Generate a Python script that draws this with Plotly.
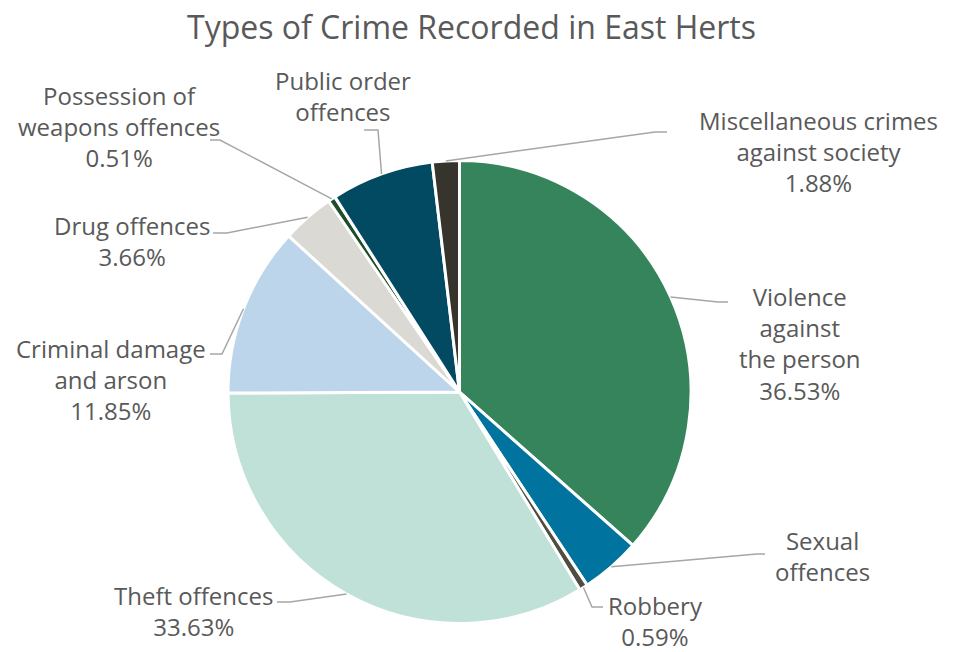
import math
import plotly.graph_objects as go

categories = ["Violence against the person", "Sexual offences", "Robbery", "Theft offences",
              "Criminal damage and arson", "Drug offences", "Possession of weapons offences",
              "Public order offences", "Miscellaneous crimes against society"]
values = [36.53, 4.18, 0.59, 33.63, 11.85, 3.66, 0.51, 7.17, 1.88]
label_texts = ["Violence<br>against<br>the person<br>36.53%", "Sexual<br>offences", "Robbery<br>0.59%",
               "Theft offences<br>33.63%", "Criminal damage<br>and arson<br>11.85%", "Drug offences<br>3.66%",
               "Possession of<br>weapons offences<br>0.51%", "Public order<br>offences",
               "Miscellaneous crimes<br>against society<br>1.88%"]
colors = ["#36845B", "#00739E", "#4D4D42", "#C0E1D8", "#BDD5EB", "#DAD9D4", "#1E4D2B", "#024A62", "#36342C"]

W, H = 966, 652
CX, CY, R = 459.5, 392.0, 231.5

# label centres (px) and leader-line elbows
label_pos = [(800, 343), (822, 556), (655, 621), (193, 611), (111, 379), (132, 241), (119, 127), (343, 96), (818, 151)]
elbows = [[(718, 302), (728, 302)],
          [(757, 554), (765, 554)],
          [(592, 607), (603, 607)],
          [(290, 602), (277, 602)],
          [(222, 354), (210, 354)],
          [(227, 233), (213, 233)],
          [(220, 140), (210, 140)],
          [(378, 130), (364, 130)],
          [(655, 132), (667, 132)]]

def px(x, y):
    return x / W, 1 - y / H

fig = go.Figure(go.Pie(
    labels=categories, values=values, sort=False, direction="clockwise", rotation=0,
    marker=dict(colors=colors, line=dict(color="white", width=3)),
    textinfo="none", hoverinfo="label+percent", showlegend=False,
    domain=dict(x=[(CX - R) / W, (CX + R) / W], y=[1 - (CY + R) / H, 1 - (CY - R) / H]),
))

total = sum(values)
cum = 0.0
shapes = []
annotations = []
for i, v in enumerate(values):
    mid = (cum + v / 2) / total * 2 * math.pi
    cum += v
    ex = CX + R * math.sin(mid)
    ey = CY - R * math.cos(mid)
    pts = [(ex, ey)] + elbows[i]
    path = "M " + " L ".join("%.5f,%.5f" % px(x, y) for x, y in pts)
    shapes.append(dict(type="path", path=path, xref="paper", yref="paper",
                       line=dict(color="#A6A6A6", width=1.5)))
    lx, ly = px(*label_pos[i])
    annotations.append(dict(text=label_texts[i], x=lx, y=ly, xref="paper", yref="paper",
                            xanchor="center", yanchor="middle", showarrow=False, align="center",
                            font=dict(family="Open Sans", size=24, color="#595959")))

tx, ty = px(471, 27)
annotations.append(dict(text="Types of Crime Recorded in East Herts", x=tx, y=ty, xref="paper", yref="paper",
                        xanchor="center", yanchor="middle", showarrow=False, borderpad=0,
                        font=dict(family="Open Sans", size=32, color="#595959")))

fig.update_layout(width=W, height=H, margin=dict(l=0, r=0, t=0, b=0),
                  paper_bgcolor="white", plot_bgcolor="white",
                  shapes=shapes, annotations=annotations)
fig.write_html("out.html", config={"displayModeBar": False})

with open("out.html", "r", encoding="utf-8") as f:
    html = f.read()
html = html.replace("<head>", "<head><style>html,body{margin:0;padding:0;overflow:hidden;}</style>", 1)
with open("out.html", "w", encoding="utf-8") as f:
    f.write(html)
